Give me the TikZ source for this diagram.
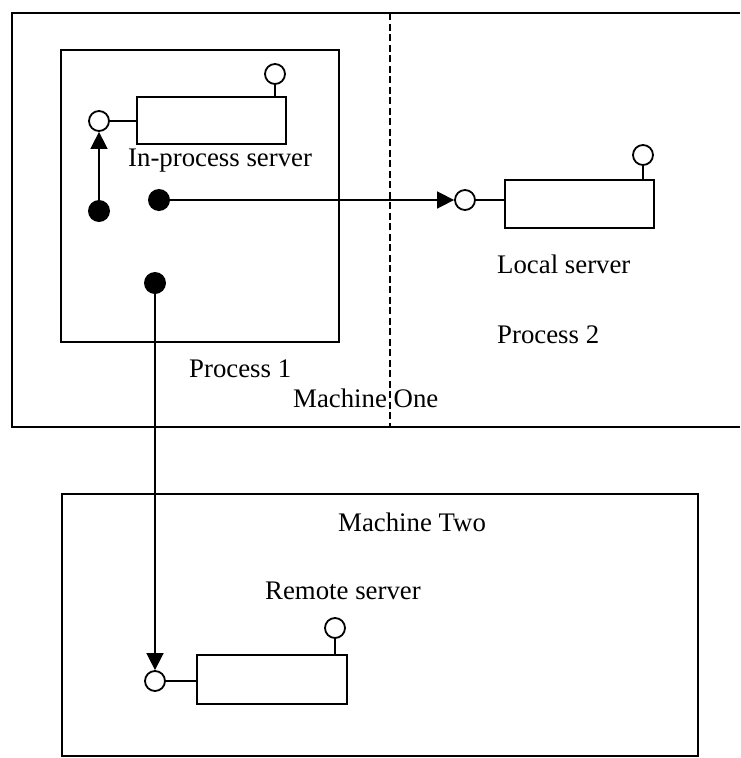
\documentclass[tikz,border=0pt]{standalone}
\usepackage{fontspec}
\setmainfont{Liberation Serif}
\usetikzlibrary{arrows.meta}
\begin{document}
\begin{tikzpicture}[x=1pt,y=-1pt,
  frame/.style={line width=2.2pt},
  divider/.style={line width=1.4pt,dash pattern=on 7pt off 3.5pt},
  server/.style={draw,line width=2pt,minimum width=149pt,minimum height=47pt,inner sep=0pt,anchor=north west},
  port/.style={draw,circle,line width=1.8pt,minimum size=20pt,inner sep=0pt,fill=white},
  caller/.style={circle,fill=black,minimum size=22pt,inner sep=0pt},
  wire/.style={line width=1.8pt},
  call/.style={line width=1.6pt,-{Triangle[length=17pt,width=17pt]}},
  lbl/.style={inner sep=0pt,anchor=base west,font=\fontsize{26.8}{32}\selectfont}
]
\useasboundingbox (0,0) rectangle (740,758);

% machine and process boundaries
\draw[frame] (740,13) -- (12,13) -- (12,427) -- (740,427);
\draw[divider] (390,13) -- (390,427);
\draw[frame] (61,50) rectangle (339,342);
\draw[frame] (62,494) rectangle (698,756);

% in-process server
\node[server] (s1) at (136,96) {};
\node[port] (p1) at (99,121) {};
\node[port] (p1t) at (275,74) {};
\draw[wire] (p1.east) -- (p1.east -| s1.west);
\draw[wire] (p1t.south) -- (p1t.south |- s1.north);

% local server
\node[server,minimum height=48pt] (s2) at (504,179) {};
\node[port] (p2) at (465,200) {};
\node[port] (p2t) at (643,155) {};
\draw[wire] (p2.east) -- (p2.east -| s2.west);
\draw[wire] (p2t.south) -- (p2t.south |- s2.north);

% remote server
\node[server,minimum width=150pt,minimum height=49pt] (s3) at (196,654) {};
\node[port] (p3) at (155,681) {};
\node[port] (p3t) at (335,628) {};
\draw[wire] (p3.east) -- (p3.east -| s3.west);
\draw[wire] (p3t.south) -- (p3t.south |- s3.north);

% client call points
\node[caller] (d1) at (99,211) {};
\node[caller] (d2) at (159,200) {};
\node[caller] (d3) at (155,283) {};
\draw[call] (d1) -- (p1);
\draw[call] (d2) -- (p2);
\draw[call] (d3) -- (p3);

% labels
\node[lbl] (l1) at (128,166) {In-process server};
\node[lbl] (l2) at (497,273) {Local server};
\node[lbl] (l3) at (497,343) {Process 2};
\node[lbl] (l4) at (189,377) {Process 1};
\node[lbl] (l5) at (293,407) {Machine One};
\node[lbl] (l6) at (338,531) {Machine Two};
\node[lbl] (l7) at (265,599) {Remote server};
\end{tikzpicture}
\end{document}
